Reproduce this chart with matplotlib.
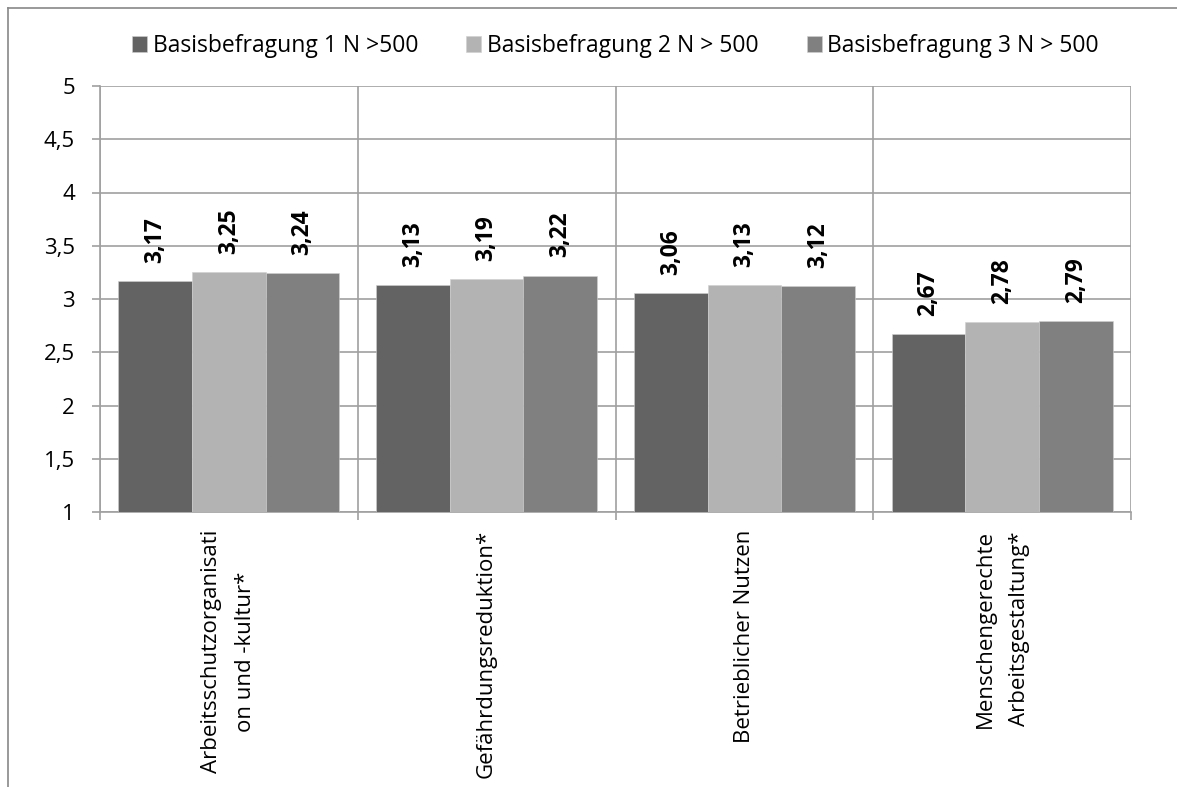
import matplotlib
matplotlib.use("Agg")
import matplotlib.pyplot as plt
import numpy as np
from matplotlib.lines import Line2D

plt.rcParams['font.family'] = ['Open Sans', 'DejaVu Sans']

# Daten
kategorien = ["Arbeitsschutzorganisati\non und -kultur*", "Gefährdungsreduktion*",
              "Betrieblicher Nutzen", "Menschengerechte\nArbeitsgestaltung*"]
serien = ["Basisbefragung 1 N >500", "Basisbefragung 2 N > 500", "Basisbefragung 3 N > 500"]
befragung1 = [3.17, 3.13, 3.06, 2.67]
befragung2 = [3.25, 3.19, 3.13, 2.78]
befragung3 = [3.24, 3.22, 3.12, 2.79]
y_ticks = [1, 1.5, 2, 2.5, 3, 3.5, 4, 4.5, 5]

farben = ["#636363", "#b3b3b3", "#808080"]
grid_col = "#a0a0a0"

fig = plt.figure(figsize=(11.77, 7.87), dpi=100)
ax = fig.add_axes([100/1177, 1 - 512/787, 1031/1177, 426/787])

x = np.arange(len(kategorien))
w = 1 / 3.5
werte = [befragung1, befragung2, befragung3]
for i, (vals, col, name) in enumerate(zip(werte, farben, serien)):
    pos = x + (i - 1) * w
    ax.bar(pos, np.array(vals) - 1, w, bottom=1, color=col, label=name, zorder=3,
           edgecolor="#d0d0d0", linewidth=0.4)
    for p, v in zip(pos, vals):
        ax.text(p, v + 0.17, f"{v:.2f}".replace(".", ","), rotation=90,
                ha="center", va="bottom", fontsize=16.5, fontweight="bold", zorder=4)

ax.set_xlim(-0.5, 3.5)
ax.set_ylim(1, 5)
ax.set_yticks(y_ticks)
ax.set_yticklabels([f"{t:g}".replace(".", ",") for t in y_ticks], fontsize=16)
ax.set_xticks(x)
ax.set_xticklabels(kategorien, rotation=90, fontsize=16, multialignment="center",
                   linespacing=1.8)
ax.set_xticks(np.arange(-0.5, 4, 1), minor=True)
ax.tick_params(axis="x", which="major", length=0, pad=13)
ax.tick_params(axis="x", which="minor", length=6, width=1.2, color=grid_col)
ax.tick_params(axis="y", length=6, width=1.2, color=grid_col, pad=12)

ax.grid(axis="y", which="major", color=grid_col, linewidth=1.2, zorder=0)
ax.grid(axis="x", which="minor", color=grid_col, linewidth=1.2, zorder=0)
for s in ["top", "right"]:
    ax.spines[s].set_visible(False)
for s in ["left", "bottom"]:
    ax.spines[s].set_color(grid_col)
    ax.spines[s].set_linewidth(1.2)

ax.legend(loc="center", bbox_to_anchor=(0.5, 1 + 40/426), ncol=3, frameon=False,
          fontsize=16.5, handlelength=0.65, handleheight=0.65, handletextpad=0.25,
          columnspacing=2.1, borderaxespad=0, borderpad=0)

# Rahmen
fig.add_artist(Line2D([7.5/1177, 7.5/1177], [0, 1 - 7.5/787], color="#888888", linewidth=1.2))
fig.add_artist(Line2D([7.5/1177, 1], [1 - 7.5/787, 1 - 7.5/787], color="#888888", linewidth=1.2))

fig.savefig("out.png", dpi=100)
